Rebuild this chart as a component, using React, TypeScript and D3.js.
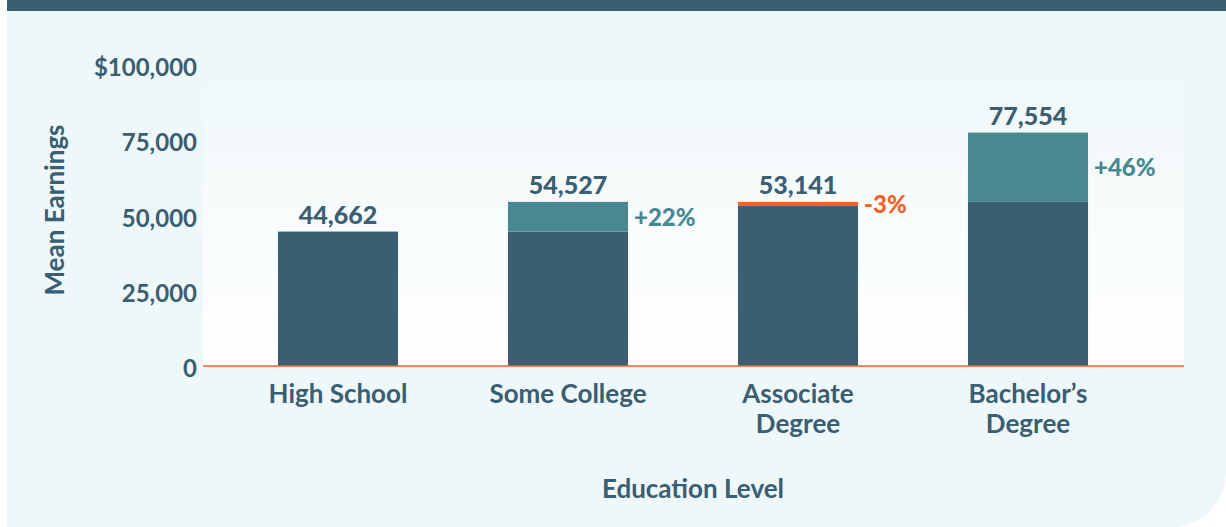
import React, { useEffect, useRef } from 'react';
import * as d3 from 'd3';

// Chart data
const categories = [['High School'], ['Some College'], ['Associate', 'Degree'], ['Bachelor’s', 'Degree']];
const earnings = [44662, 54527, 53141, 77554];
// level each bar is compared against (drawn as the dark base)
const compareBase = [null, 44662, 54527, 54527];
const changeLabels = ['', '+22%', '-3%', '+46%'];
const yTicks = [0, 25000, 50000, 75000, 100000];

const COLORS = {
  navy: '#3a5e72',
  teal: '#488890',
  orange: '#f06228',
  panel: '#eef7f9',
  text: '#3a5e72',
};

const FONT = 'Lato, "Noto Sans", sans-serif';

const App = () => {
  const ref = useRef<SVGSVGElement>(null);

  const graph = () => {
    const svg = d3.select(ref.current);
    svg.selectAll('*').remove();

    const width = 1226;
    const height = 527;

    // background + panel
    svg.append('rect').attr('width', width).attr('height', height).attr('fill', '#ffffff');
    svg.append('path')
      .attr('d', `M7,11 H${width} V472 A55,55 0 0 1 1171,${height} H7 Z`)
      .attr('fill', COLORS.panel);
    svg.append('rect').attr('x', 7).attr('y', 0).attr('width', width - 7).attr('height', 11).attr('fill', COLORS.navy);

    const defs = svg.append('defs');
    const grad = defs.append('linearGradient').attr('id', 'plotBg').attr('x1', 0).attr('y1', 0).attr('x2', 0).attr('y2', 1);
    grad.append('stop').attr('offset', '0%').attr('stop-color', '#f0f8f9');
    grad.append('stop').attr('offset', '100%').attr('stop-color', '#ffffff');

    const plot = { left: 203, right: 1184, top: 85, bottom: 366 };

    const x = d3.scaleBand<number>()
      .domain(d3.range(categories.length))
      .range([223, 1143])
      .paddingInner(0.478)
      .paddingOuter(0.239);

    const y = d3.scaleLinear()
      .domain([0, 100000])
      .range([plot.bottom, 65]);

    svg.append('rect')
      .attr('x', plot.left)
      .attr('y', plot.top)
      .attr('width', plot.right - plot.left)
      .attr('height', plot.bottom - plot.top)
      .attr('fill', 'url(#plotBg)');

    // y axis labels
    const fmt = d3.format(',');
    svg.append('g')
      .selectAll('text')
      .data(yTicks)
      .enter().append('text')
      .attr('x', 197)
      .attr('y', (d) => y(d) + 11)
      .attr('text-anchor', 'end')
      .style('font-family', FONT)
      .style('font-weight', 700)
      .style('font-size', '24px')
      .attr('fill', COLORS.text)
      .text((d) => (d === 100000 ? '$' + fmt(d) : fmt(d)));

    svg.append('text')
      .attr('transform', `translate(64, 210) rotate(-90)`)
      .attr('text-anchor', 'middle')
      .style('font-family', FONT)
      .style('font-weight', 700)
      .style('font-size', '26px')
      .attr('fill', COLORS.text)
      .text('Mean Earnings');

    // bars
    const bars = svg.append('g');
    earnings.forEach((v, i) => {
      const base = compareBase[i];
      const bx = x(i) as number;
      const bw = x.bandwidth();
      const low = base === null ? v : Math.min(v, base);
      const high = base === null ? v : Math.max(v, base);

      bars.append('rect')
        .attr('x', bx).attr('width', bw)
        .attr('y', y(low)).attr('height', y(0) - y(low))
        .attr('fill', COLORS.navy);

      if (base !== null) {
        const up = v >= base;
        bars.append('rect')
          .attr('x', bx).attr('width', bw)
          .attr('y', y(high)).attr('height', y(low) - y(high))
          .attr('fill', up ? COLORS.teal : COLORS.orange);

        bars.append('text')
          .attr('x', bx + bw + 6)
          .attr('y', (y(high) + y(low)) / 2 + 9)
          .style('font-family', FONT)
          .style('font-weight', 900)
          .style('font-size', '24px')
          .attr('fill', up ? COLORS.teal : COLORS.orange)
          .text(changeLabels[i]);
      }

      bars.append('text')
        .attr('x', bx + bw / 2)
        .attr('y', y(high) - 8)
        .attr('text-anchor', 'middle')
        .style('font-family', FONT)
        .style('font-weight', 900)
        .style('font-size', '25px')
        .attr('fill', COLORS.text)
        .text(fmt(v));
    });

    // baseline
    svg.append('line')
      .attr('x1', plot.left).attr('x2', plot.right)
      .attr('y1', y(0)).attr('y2', y(0))
      .attr('stroke', COLORS.orange)
      .attr('stroke-width', 1.5);

    // category labels
    const cats = svg.append('g')
      .selectAll('text')
      .data(categories)
      .enter().append('text')
      .attr('x', (d, i) => (x(i) as number) + x.bandwidth() / 2)
      .attr('y', 403)
      .attr('text-anchor', 'middle')
      .style('font-family', FONT)
      .style('font-weight', 700)
      .style('font-size', '26px')
      .attr('fill', COLORS.text);

    cats.selectAll('tspan')
      .data((d) => d)
      .enter().append('tspan')
      .attr('x', function () { return (this.parentNode as SVGTextElement).getAttribute('x'); })
      .attr('dy', (d, j) => (j === 0 ? 0 : 30))
      .text((d) => d);

    svg.append('text')
      .attr('x', 693)
      .attr('y', 498)
      .attr('text-anchor', 'middle')
      .style('font-family', FONT)
      .style('font-weight', 700)
      .style('font-size', '26px')
      .attr('fill', COLORS.text)
      .text('Education Level');
  };

  useEffect(() => graph());

  return (
    <svg ref={ref} width="1226" height="527" style={{ position: 'absolute', left: 0, top: 0 }}></svg>
  );
};

export default App;
